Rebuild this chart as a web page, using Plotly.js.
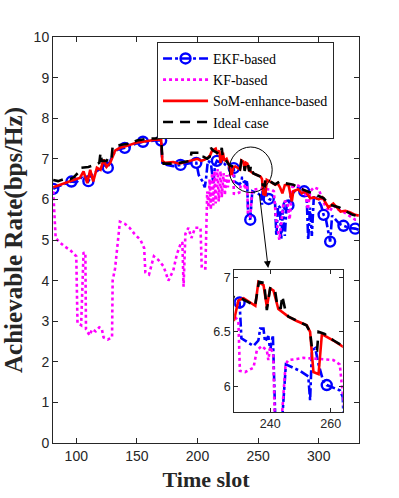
<!DOCTYPE html>
<html>
<head>
<meta charset="utf-8">
<script src="https://cdn.plot.ly/plotly-3.0.1.min.js"></script>
<style>
  html, body { margin: 0; padding: 0; background: #fff; }
  #chart { width: 399px; height: 498px; }
</style>
</head>
<body>
<div id="chart"></div>
<script>
// ---- data ----
var ekfX = [81, 85, 90, 96, 100, 103, 106, 110, 113, 117, 120, 123, 126, 130, 134, 140, 145, 150, 155, 160, 165, 170,
  171, 175, 180, 186, 190, 195, 199, 201, 204, 206, 207, 208.5, 211, 213, 214.5, 216, 219, 222, 225, 229.9,
  230.5, 234.5, 236.1, 236.7, 237.8, 238.3, 239.4, 240, 240.9, 241.8, 243.5, 245.2, 249.9, 252.6, 253.2, 253.8,
  254.9, 256, 257.5, 258.7, 263.1, 264, 265, 266.5, 268, 269, 270.5, 272, 273.5, 275, 277, 280, 283, 285.5, 288,
  290, 291.3, 292.8, 294.3, 296, 299, 302, 304, 306, 307.5, 309.4, 311, 314, 317, 320.4, 325, 330, 333];
var ekfY = [6.26, 6.32, 6.38, 6.44, 6.42, 6.5, 6.6, 6.45, 6.6, 6.7, 6.75, 6.85, 6.78, 7.1, 7.22, 7.27, 7.33, 7.38, 7.42, 7.44, 7.45, 7.45,
  6.9, 6.85, 6.82, 6.85, 6.88, 6.9, 6.9, 6.6, 6.45, 6.3, 6.5, 6.95, 6.9, 6.4, 6.85, 6.95, 6.9, 6.88, 6.8, 6.77,
  6.44, 6.37, 6.42, 6.53, 6.53, 6.41, 6.46, 6.33, 6.47, 5.6, 5.5, 6.2, 6.14, 6.09, 5.87, 6.33,
  6.35, 6.2, 6.05, 6.01, 5.96, 5.9, 5.1, 5.85, 5.8, 5.0, 5.75, 5.1, 5.85, 5.85, 6.1, 6.2, 6.3, 6.25, 6.2,
  6.1, 5.0, 5.8, 5.1, 6.1, 6.0, 5.85, 5.62, 5.5, 5.25, 4.96, 5.6, 5.5, 5.4, 5.35, 5.3, 5.28, 5.25];
var ekfMarkX = [81, 96, 110, 126, 140, 155, 170, 186, 199, 216, 229.9, 243.5, 258.7, 275, 288, 304, 309.4, 320.4, 330];

var kfX = [81, 83, 86, 90, 95, 100, 101, 104, 106, 107.5, 108, 111, 113, 116, 119, 121, 122.5, 126, 129.5, 130, 132, 136,
  140, 144, 148, 153, 156, 157, 160, 164, 168, 172, 176, 180, 183, 186, 187.5, 188.5, 190, 192.5, 195, 198, 202.5,
  203.5, 206.5, 208, 209, 210, 211, 212, 213, 214, 215, 216.5, 217.5, 219, 220, 221.5, 222.5, 224, 225, 226.5, 228,
  229.5, 230, 231.7, 234.5, 235.6,
  237.2, 238.9, 239.4, 240, 241, 241.6, 243.5, 245.1, 246, 248.8, 251, 256.5, 260.9, 263, 264.5, 266, 267.5, 269,
  271, 274, 276, 278, 282, 286, 289, 291, 293, 296, 300, 303, 306, 309, 312, 316, 320, 325, 330, 333];
var kfY = [6.2, 5.05, 4.95, 4.85, 4.75, 4.6, 2.95, 2.9, 4.7, 4.65, 2.8, 2.65, 2.8, 2.75, 2.85, 2.82, 2.6, 2.55, 2.6, 4.0, 4.3, 5.45,
  5.4, 5.3, 5.15, 5.0, 4.8, 4.2, 4.15, 4.6, 4.5, 4.35, 4.0, 4.25, 4.65, 4.9, 4.95, 3.85, 5.15, 5.3, 5.05, 5.3, 5.3,
  4.3, 4.3, 6.2, 5.8, 6.5, 5.75, 6.65, 5.85, 6.7, 5.9, 6.75, 5.95, 6.7, 6.05, 6.65, 6.1, 6.6, 6.3, 6.6, 6.65,
  6.6, 6.14, 6.13, 6.17, 6.33,
  6.37, 6.33, 6.24, 6.36, 6.3, 5.6, 5.58, 6.2, 6.24, 6.25, 6.26, 6.25, 6.24, 6.2, 5.6, 5.3, 5.0, 5.4,
  5.95, 5.95, 5.5, 6.3, 6.35, 6.3, 6.15, 5.75, 6.2, 6.3, 6.25, 6.0, 5.8, 5.7, 5.85, 5.75, 5.7, 5.6, 5.5, 5.5];

var somX = [81, 88, 95, 100, 103, 106, 109, 111.5, 114, 117, 120, 122.5, 125, 128, 132, 136, 140, 145, 150, 155, 160, 165, 170,
  171, 173, 180, 185, 190, 194, 196, 200, 203, 206, 210, 212, 215, 216, 218, 219, 221, 222, 224, 226, 228,
  229.5, 231.2, 235.1, 236.1, 237.8, 238.9, 240, 241.1, 242.7, 246, 248.8, 252.1, 253.2, 254.3, 256, 257.1,
  260.9, 264.2, 266, 268, 270, 272, 275, 277.8, 279, 283, 286, 289, 293, 296, 300, 303, 306, 308, 312, 315,
  318, 322, 326, 330, 333];
var somY = [6.3, 6.38, 6.45, 6.5, 6.53, 6.69, 6.4, 6.73, 6.44, 6.78, 6.73, 6.98, 6.8, 6.9, 7.2, 7.27, 7.3, 7.35, 7.4, 7.42, 7.45, 7.47, 7.47,
  6.95, 6.9, 6.92, 6.88, 6.92, 6.95, 6.98, 7.0, 6.95, 6.98, 7.06, 7.2, 7.25, 7.15, 7.2, 6.9, 7.15, 6.95, 7.0, 6.85, 6.6,
  6.79, 6.81, 6.74, 6.96, 6.93, 6.73, 6.9, 6.88, 6.71, 6.64, 6.6, 6.56, 6.5, 6.13, 6.11, 6.48,
  6.42, 6.36, 6.4, 6.3, 6.15, 6.35, 6.36, 5.95, 6.2, 6.25, 6.15, 6.2, 6.03, 6.05, 6.0, 6.05, 5.9, 5.8, 5.9, 5.8,
  5.7, 5.72, 5.68, 5.62, 5.6];

var idealX = [81, 85, 90, 95, 98, 100, 103, 104, 110, 115, 119, 120, 121, 125, 127, 129, 130, 134, 140, 145, 150, 155, 160,
  165, 170, 171, 172, 176, 180, 185, 190, 194, 195, 201, 202, 205, 208, 210, 211, 213, 216, 219, 220, 221, 223,
  226, 228, 231, 235, 236.3, 238, 238.9, 240, 241.5, 242.5, 243.5, 244, 245, 246, 249, 252, 253.2, 253.8, 255.5,
  256, 258, 261, 264, 268, 272, 279, 287, 297, 304, 309, 317, 323, 328, 333];
var idealY = [6.48, 6.45, 6.5, 6.5, 6.55, 6.62, 6.7, 6.78, 6.8, 6.85, 6.9, 7.15, 6.95, 6.95, 7.05, 7.0, 7.3, 7.33, 7.35, 7.38, 7.45, 7.48, 7.5,
  7.5, 7.52, 7.0, 6.88, 6.88, 6.88, 6.9, 6.92, 6.95, 7.15, 7.15, 7.05, 7.05, 7.0, 7.05, 7.27, 7.2, 7.15, 7.1, 7.27, 7.0, 6.98,
  6.85, 6.82, 6.8, 6.74, 6.96, 6.95, 6.7, 6.9, 6.9, 6.72, 6.72, 6.83, 6.7, 6.64, 6.6, 6.56, 6.5, 6.35, 6.33,
  6.5, 6.48, 6.42, 6.37, 6.44, 6.4, 6.36, 6.24, 6.12, 6.03, 5.87, 5.8, 5.7, 5.62, 5.58];

var names = ['EKF-based', 'KF-based', 'SoM-enhance-based', 'Ideal case'];
var xTicks = [100, 150, 200, 250, 300];
var insetXTicks = [240, 260];
var insetYTicks = [6, 6.5, 7];

// ---- styles ----
var ekfLine = { color: 'rgb(0,0,255)', width: 2.6, dash: 'dashdot' };
var ekfMarker = { symbol: 'circle-open', size: 10, color: 'rgb(0,0,255)', line: { width: 2.4, color: 'rgb(0,0,255)' } };
var kfLine = { color: 'rgb(255,0,255)', width: 2.6, dash: 'dot' };
var somLine = { color: 'rgb(255,0,0)', width: 2.6 };
var idealLine = { color: 'black', width: 2.6, dash: '10px,7px' };

var ekfMarkY = ekfMarkX.map(function (x) { return ekfY[ekfX.indexOf(x)]; });

function seriesFor(xa, ya) {
    return [
        { x: ekfX, y: ekfY, xaxis: xa, yaxis: ya, mode: 'lines', line: ekfLine, showlegend: false },
        { x: ekfMarkX, y: ekfMarkY, xaxis: xa, yaxis: ya, mode: 'markers', marker: ekfMarker, showlegend: false },
        { x: kfX, y: kfY, xaxis: xa, yaxis: ya, mode: 'lines', line: kfLine, showlegend: false },
        { x: somX, y: somY, xaxis: xa, yaxis: ya, mode: 'lines', line: somLine, showlegend: false },
        { x: idealX, y: idealY, xaxis: xa, yaxis: ya, mode: 'lines', line: idealLine, showlegend: false }
    ];
}

// legend-only entries
var legendTraces = [
    { x: [null], y: [null], name: names[0], mode: 'lines+markers', line: ekfLine, marker: ekfMarker },
    { x: [null], y: [null], name: names[1], mode: 'lines', line: kfLine },
    { x: [null], y: [null], name: names[2], mode: 'lines', line: somLine },
    { x: [null], y: [null], name: names[3], mode: 'lines', line: idealLine }
];

var data = legendTraces.concat(seriesFor('x', 'y')).concat(seriesFor('x2', 'y2'));

var axColor = '#262626';
var tickFont = { family: 'Liberation Sans, Arial, sans-serif', size: 14, color: axColor };
var serif = 'Liberation Serif, Times New Roman, serif';

var layout = {
    width: 399,
    height: 498,
    margin: { l: 53, r: 40, t: 37, b: 55 },
    paper_bgcolor: 'white',
    plot_bgcolor: 'white',
    showlegend: true,
    xaxis: {
        range: [80.8, 333.2], tickvals: xTicks, ticks: 'inside', ticklen: 5, tickcolor: axColor,
        showline: true, linecolor: axColor, linewidth: 1, mirror: 'allticks',
        showgrid: false, zeroline: false, tickfont: tickFont,
        title: { text: 'Time slot', font: { family: serif, size: 22, color: axColor, weight: 'bold' }, standoff: 8 }
    },
    yaxis: {
        range: [0, 10], dtick: 1, ticks: 'inside', ticklen: 5, tickcolor: axColor,
        showline: true, linecolor: axColor, linewidth: 1, mirror: 'allticks',
        showgrid: false, zeroline: false, tickfont: tickFont,
        title: { text: 'Achievable Rate(bps/Hz)', font: { family: serif, size: 25, color: axColor, weight: 'bold' }, standoff: 5 }
    },
    xaxis2: {
        domain: [0.592, 0.947], anchor: 'y2', range: [228.1, 264], tickvals: insetXTicks,
        ticks: 'inside', ticklen: 4, tickcolor: axColor,
        showline: true, linecolor: axColor, linewidth: 1, mirror: 'allticks',
        showgrid: false, zeroline: false,
        tickfont: { family: 'Liberation Sans, Arial, sans-serif', size: 12.5, color: axColor }
    },
    yaxis2: {
        domain: [0.0764, 0.4257], anchor: 'x2', range: [5.762, 7.068], tickvals: insetYTicks,
        ticktext: ['6', '6.5', '7'],
        ticks: 'inside', ticklen: 4, tickcolor: axColor,
        showline: true, linecolor: axColor, linewidth: 1, mirror: 'allticks',
        showgrid: false, zeroline: false,
        tickfont: { family: 'Liberation Sans, Arial, sans-serif', size: 12.5, color: axColor }
    },
    legend: {
        x: 0.34, y: 0.988, xanchor: 'left', yanchor: 'top',
        bgcolor: 'white', bordercolor: axColor, borderwidth: 1,
        itemwidth: 45, tracegroupgap: 0,
        font: { family: serif, size: 14, color: '#000' }
    },
    shapes: [
        { type: 'circle', xref: 'x', yref: 'y', x0: 226.1, x1: 261.6, y0: 6.17, y1: 7.29,
          line: { color: 'black', width: 1 } }
    ],
    annotations: [
        { x: 258.3, y: 4.31, ax: 250.9, ay: 6.17, xref: 'x', yref: 'y', axref: 'x', ayref: 'y',
          text: '', showarrow: true, arrowhead: 2, arrowsize: 1.4, arrowwidth: 1, arrowcolor: 'black' }
    ]
};

Plotly.newPlot('chart', data, layout, { displayModeBar: false, staticPlot: true });
</script>
</body>
</html>
